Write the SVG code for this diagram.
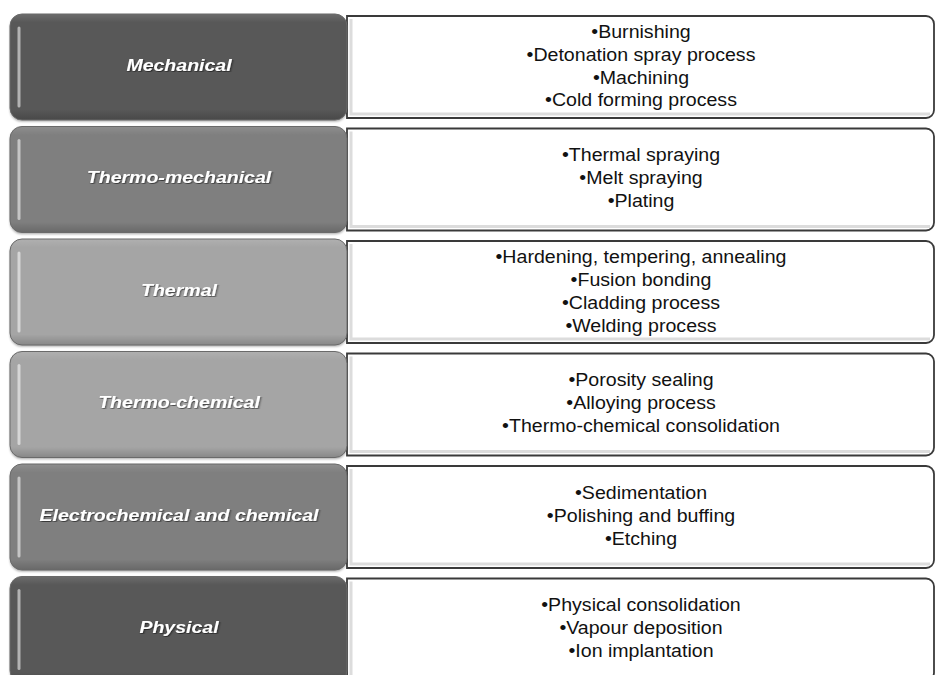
<svg xmlns="http://www.w3.org/2000/svg" width="936" height="675" viewBox="0 0 936 675">
<defs>
<style>
.lbl{font-family:"Liberation Sans",Arial,sans-serif;font-size:17px;font-weight:bold;font-style:italic;fill:#ffffff;text-anchor:middle;filter:url(#ts)}
.itm{font-family:"Liberation Sans",Arial,sans-serif;font-size:17.5px;fill:#111111;text-anchor:middle}
.rbox{fill:#ffffff;stroke:#3a3a3a;stroke-width:1.8}
.bev{fill:none;stroke:#dcdcdc;stroke-width:3}
.hl{fill:none;stroke:#ffffff;stroke-opacity:0.55;stroke-width:3;stroke-linecap:round}
.edge{fill:url(#shade);stroke:#6a6a6a;stroke-width:1}
</style>
<filter id="ts" x="-10%" y="-30%" width="120%" height="160%">
<feDropShadow dx="0.8" dy="1" stdDeviation="0.7" flood-color="#000" flood-opacity="0.55"/>
</filter>
<filter id="bs" x="-5%" y="-5%" width="110%" height="115%">
<feDropShadow dx="0" dy="1.5" stdDeviation="1.2" flood-color="#000" flood-opacity="0.35"/>
</filter>
<linearGradient id="shade" x1="0" y1="0" x2="0" y2="1">
<stop offset="0" stop-color="#ffffff" stop-opacity="0.12"/>
<stop offset="0.08" stop-color="#ffffff" stop-opacity="0"/>
<stop offset="0.9" stop-color="#000000" stop-opacity="0"/>
<stop offset="1" stop-color="#000000" stop-opacity="0.18"/>
</linearGradient>
</defs>
<rect width="936" height="675" fill="#ffffff"/>

<g id="row-mechanical">
<path class="rbox" d="M347,16 H926 A8,8 0 0 1 934,24 V110 A8,8 0 0 1 926,118 H347 Z"/>
<path class="bev" d="M351,19 V114 H930"/>
<rect x="10" y="14" width="337" height="106" rx="12" fill="#595959" filter="url(#bs)"/>
<rect class="edge" x="10" y="14" width="337" height="106" rx="12"/>
<line class="hl" x1="19" y1="28" x2="19" y2="106"/>
<text class="lbl" transform="translate(179,0) scale(1.15,1)" x="0" y="71">Mechanical</text>
<g class="itm" transform="translate(641,0) scale(1.12,1)">
<text x="0" y="38.3">•Burnishing</text>
<text x="0" y="61">•Detonation spray process</text>
<text x="0" y="83.7">•Machining</text>
<text x="0" y="106.4">•Cold forming process</text>
</g>
</g>

<g id="row-thermo-mechanical">
<path class="rbox" d="M347,128.5 H926 A8,8 0 0 1 934,136.5 V222.5 A8,8 0 0 1 926,230.5 H347 Z"/>
<path class="bev" d="M351,131.5 V226.5 H930"/>
<rect x="10" y="126.5" width="337" height="106" rx="12" fill="#7f7f7f" filter="url(#bs)"/>
<rect class="edge" x="10" y="126.5" width="337" height="106" rx="12"/>
<line class="hl" x1="19" y1="140.5" x2="19" y2="218.5"/>
<text class="lbl" transform="translate(179,0) scale(1.15,1)" x="0" y="183.5">Thermo-mechanical</text>
<g class="itm" transform="translate(641,0) scale(1.12,1)">
<text x="0" y="161.3">•Thermal spraying</text>
<text x="0" y="184.3">•Melt spraying</text>
<text x="0" y="207.3">•Plating</text>
</g>
</g>

<g id="row-thermal">
<path class="rbox" d="M347,241 H926 A8,8 0 0 1 934,249 V335 A8,8 0 0 1 926,343 H347 Z"/>
<path class="bev" d="M351,244 V339 H930"/>
<rect x="10" y="239" width="337" height="106" rx="12" fill="#a5a5a5" filter="url(#bs)"/>
<rect class="edge" x="10" y="239" width="337" height="106" rx="12"/>
<line class="hl" x1="19" y1="253" x2="19" y2="331"/>
<text class="lbl" transform="translate(179,0) scale(1.15,1)" x="0" y="296">Thermal</text>
<g class="itm" transform="translate(641,0) scale(1.12,1)">
<text x="0" y="263.5">•Hardening, tempering, annealing</text>
<text x="0" y="286.5">•Fusion bonding</text>
<text x="0" y="309.3">•Cladding process</text>
<text x="0" y="332">•Welding process</text>
</g>
</g>

<g id="row-thermo-chemical">
<path class="rbox" d="M347,353.5 H926 A8,8 0 0 1 934,361.5 V447.5 A8,8 0 0 1 926,455.5 H347 Z"/>
<path class="bev" d="M351,356.5 V451.5 H930"/>
<rect x="10" y="351.5" width="337" height="106" rx="12" fill="#a5a5a5" filter="url(#bs)"/>
<rect class="edge" x="10" y="351.5" width="337" height="106" rx="12"/>
<line class="hl" x1="19" y1="365.5" x2="19" y2="443.5"/>
<text class="lbl" transform="translate(179,0) scale(1.15,1)" x="0" y="408">Thermo-chemical</text>
<g class="itm" transform="translate(641,0) scale(1.12,1)">
<text x="0" y="386.3">•Porosity sealing</text>
<text x="0" y="409.3">•Alloying process</text>
<text x="0" y="432.3">•Thermo-chemical consolidation</text>
</g>
</g>

<g id="row-electrochemical">
<path class="rbox" d="M347,466 H926 A8,8 0 0 1 934,474 V560 A8,8 0 0 1 926,568 H347 Z"/>
<path class="bev" d="M351,469 V564 H930"/>
<rect x="10" y="464" width="337" height="106" rx="12" fill="#7f7f7f" filter="url(#bs)"/>
<rect class="edge" x="10" y="464" width="337" height="106" rx="12"/>
<line class="hl" x1="19" y1="478" x2="19" y2="556"/>
<text class="lbl" transform="translate(179,0) scale(1.15,1)" x="0" y="521">Electrochemical and chemical</text>
<g class="itm" transform="translate(641,0) scale(1.12,1)">
<text x="0" y="498.8">•Sedimentation</text>
<text x="0" y="521.8">•Polishing and buffing</text>
<text x="0" y="544.8">•Etching</text>
</g>
</g>

<g id="row-physical">
<path class="rbox" d="M347,578.5 H926 A8,8 0 0 1 934,586.5 V672.5 A8,8 0 0 1 926,680.5 H347 Z"/>
<path class="bev" d="M351,581.5 V676.5 H930"/>
<rect x="10" y="576.5" width="337" height="106" rx="12" fill="#595959" filter="url(#bs)"/>
<rect class="edge" x="10" y="576.5" width="337" height="106" rx="12"/>
<line class="hl" x1="19" y1="590.5" x2="19" y2="668.5"/>
<text class="lbl" transform="translate(179,0) scale(1.15,1)" x="0" y="633.5">Physical</text>
<g class="itm" transform="translate(641,0) scale(1.12,1)">
<text x="0" y="610.8">•Physical consolidation</text>
<text x="0" y="633.8">•Vapour deposition</text>
<text x="0" y="656.8">•Ion implantation</text>
</g>
</g>
</svg>
